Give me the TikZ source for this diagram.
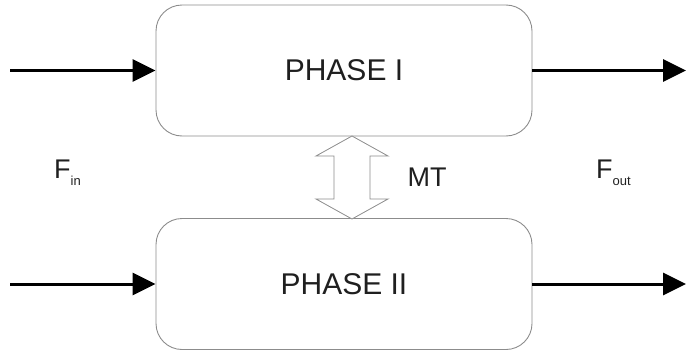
\documentclass[tikz,border=0pt]{standalone}
\usepackage{fontspec}
\setmainfont{Liberation Sans}
\usetikzlibrary{calc,arrows.meta}
\begin{document}
\begin{tikzpicture}[x=1pt,y=-1pt,
  phasebox/.style={draw=black!45,line width=0.9pt,rounded corners=26pt,minimum width=376pt,minimum height=131pt,inner sep=0pt,font=\fontsize{30}{32}\selectfont,text=black!88},
  flow/.style={line width=3pt,-{Triangle[length=23pt,width=22pt]}},
  lbl/.style={font=\fontsize{27}{30}\selectfont,text=black!88,inner sep=0pt}]
\useasboundingbox (0,0) rectangle (686,351);
\node[phasebox] (p1) at (344,70.5) {PHASE I};
\node[phasebox] (p2) at (344,284) {PHASE II};
\coordinate (in1) at (10,70.5);
\coordinate (in2) at (10,284);
\coordinate (out1) at (686,70.5);
\coordinate (out2) at (686,284);
\draw[flow] (in1) -- (p1.west);
\draw[flow] (in2) -- (p2.west);
\draw[flow] (p1.east) -- (out1);
\draw[flow] (p2.east) -- (out2);
\coordinate (mt1) at (352,136);
\coordinate (mt2) at (352,219);
\draw[draw=black!45,fill=white,line width=0.8pt,line join=miter]
  (mt1) -- ++(36,20) -- ++(-18,0) -- ($(mt2)+(18,-20)$) -- ++(18,0) -- (mt2)
  -- ++(-36,-20) -- ++(18,0) -- ($(mt1)+(-18,20)$) -- ++(-18,0) -- cycle;
\node[lbl] (mt) at (427,177) {MT};
\node[lbl,anchor=base west] (fin) at (54,178) {F\raisebox{-7pt}{\fontsize{13}{14}\selectfont in}};
\node[lbl,anchor=base west] (fout) at (596,178) {F\raisebox{-7pt}{\fontsize{13}{14}\selectfont out}};
\end{tikzpicture}
\end{document}
